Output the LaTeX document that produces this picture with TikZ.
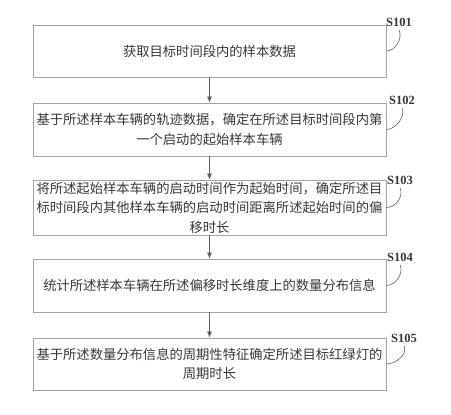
\documentclass[tikz,border=0pt]{standalone}
\usepackage{fontspec}
\setmainfont{Liberation Serif}
\newfontfamily\cjk{Noto Sans CJK SC}
\usepackage{tikz}
\usetikzlibrary{arrows.meta}

\definecolor{boxgray}{RGB}{165,165,165}
\definecolor{txtgray}{RGB}{55,55,55}

\tikzset{
    stepbox/.style={draw=boxgray, line width=0.8pt, minimum width=353pt, align=center,
        text=txtgray, font=\cjk\fontsize{13.3}{19.5}\selectfont, inner sep=0pt},
    steplabel/.style={text=txtgray, font=\fontsize{12.5}{12.5}\selectfont\bfseries},
    flow/.style={draw=txtgray!80, line width=0.6pt, -{Latex[length=6pt,width=5pt]}},
    hook/.style={draw=txtgray!80, line width=0.6pt}
}

\begin{document}
\begin{tikzpicture}[x=1pt, y=-1pt]
    \useasboundingbox (0,0) rectangle (451,415);

    \node[stepbox, minimum height=52pt] (S101) at (209.5,51) {获取目标时间段内的样本数据};
    \node[stepbox, minimum height=53pt] (S102) at (209.5,129.5) {基于所述样本车辆的轨迹数据，确定在所述目标时间段内第\\一个启动的起始样本车辆};
    \node[stepbox, minimum height=55pt] (S103) at (209.5,207.5) {将所述起始样本车辆的启动时间作为起始时间，确定所述目\\标时间段内其他样本车辆的启动时间距离所述起始时间的偏\\移时长};
    \node[stepbox, minimum height=53pt] (S104) at (209.5,285.5) {统计所述样本车辆在所述偏移时长维度上的数量分布信息};
    \node[stepbox, minimum height=52pt] (S105) at (209.5,364) {基于所述数量分布信息的周期性特征确定所述目标红绿灯的\\周期时长};

    \node[steplabel] (L101) at (399,22) {S101};
    \node[steplabel] (L102) at (402,100) {S102};
    \node[steplabel] (L103) at (400,180) {S103};
    \node[steplabel] (L104) at (400,257) {S104};
    \node[steplabel] (L105) at (404,338) {S105};

    \draw[flow] (S101) -- (S102);
    \draw[flow] (S102) -- (S103);
    \draw[flow] (S103) -- (S104);
    \draw[flow] (S104) -- (S105);

    \draw[hook] (L101.south) .. controls +(4,9) and +(9,0) .. (S101.east);
    \draw[hook] (L102.south) .. controls +(4,9) and +(9,0) .. (S102.east);
    \draw[hook] (L103.south) .. controls +(4,9) and +(9,0) .. (S103.east);
    \draw[hook] (L104.south) .. controls +(4,9) and +(9,0) .. (S104.east);
    \draw[hook] (L105.south) .. controls +(4,9) and +(9,0) .. (S105.east);
\end{tikzpicture}
\end{document}
